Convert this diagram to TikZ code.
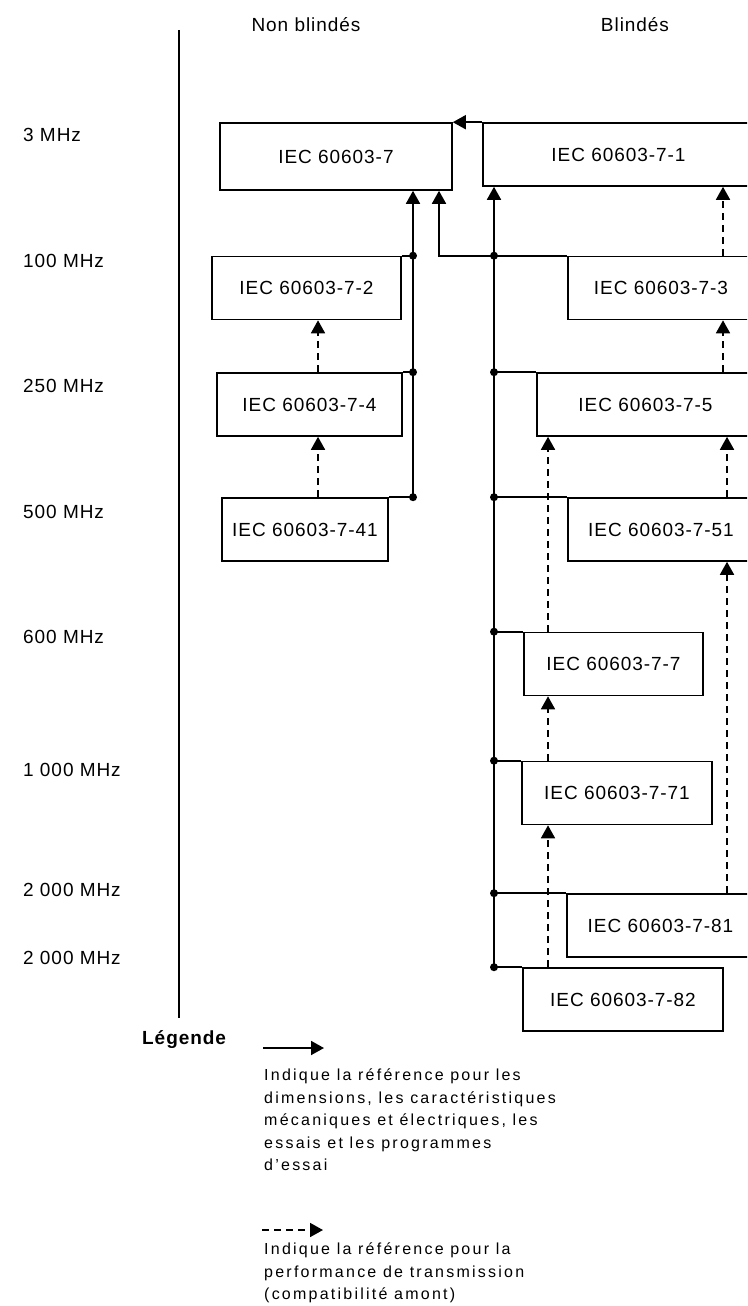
\documentclass[tikz,border=0pt]{standalone}
\usepackage{fontspec}
\setmainfont{Liberation Sans}[LetterSpace=5]
\newfontfamily\legendfont{Liberation Sans}[LetterSpace=14]
\usetikzlibrary{arrows.meta,calc}

\begin{document}
\begin{tikzpicture}[
    x=1pt, y=-1pt,
    font=\fontsize{19}{22}\selectfont,
    >={Triangle[length=13pt,width=14pt]},
    ref/.style={rectangle, draw, line width=1.6pt, inner sep=0pt, minimum height=63pt, align=center},
    freq/.style={anchor=west, inner sep=0pt},
    link/.style={line width=1.8pt},
    perf/.style={line width=1.7pt, dash pattern=on 7pt off 5pt},
    legtext/.style={anchor=north west, inner sep=0pt, align=left, font=\legendfont\fontsize{16}{22.5}\selectfont}
]
\path[use as bounding box, clip] (0,0) rectangle (747,1306);

% Headings and frequency axis
\node (nonbl) at (306,25) {Non blindés};
\node (bl) at (635,25) {Blindés};
\coordinate (axtop) at (179,30);
\coordinate (axbot) at (179,1018);
\draw[line width=1.6pt] (axtop) -- (axbot);

\node[freq] (f3)     at (23,135) {3 MHz};
\node[freq] (f100)   at (23,261) {100 MHz};
\node[freq] (f250)   at (23,386) {250 MHz};
\node[freq] (f500)   at (23,512) {500 MHz};
\node[freq] (f600)   at (23,637) {600 MHz};
\node[freq] (f1000)  at (23,770) {1 000 MHz};
\node[freq] (f2000a) at (23,890) {2 000 MHz};
\node[freq] (f2000b) at (23,958) {2 000 MHz};

% Unshielded column
\node[ref, minimum width=232pt, minimum height=67pt] (b7) at (336,156.5) {IEC 60603-7};
\node[ref, minimum width=189pt] (b72)  at (306.5,288) {IEC 60603-7-2};
\node[ref, minimum width=185pt] (b74)  at (309.5,404.5) {IEC 60603-7-4};
\node[ref, minimum width=166pt] (b741) at (305,529.5) {IEC 60603-7-41};

% Shielded column (runs past the right edge)
\node[ref, minimum width=271pt] (b71)  at (618.5,154.5) {IEC 60603-7-1};
\node[ref, minimum width=186pt] (b73)  at (661,288) {IEC 60603-7-3};
\node[ref, minimum width=217pt] (b75)  at (645.5,404.5) {IEC 60603-7-5};
\node[ref, minimum width=186pt] (b751) at (661,529.5) {IEC 60603-7-51};
\node[ref, minimum width=179pt] (b77)  at (613.5,664) {IEC 60603-7-7};
\node[ref, minimum width=190pt] (b771) at (617,793) {IEC 60603-7-71};
\node[ref, minimum width=187pt] (b781) at (660.5,925.5) {IEC 60603-7-81};
\node[ref, minimum width=200pt] (b782) at (623,999.5) {IEC 60603-7-82};

% Bus and column positions
\coordinate (busL) at (413,0);
\coordinate (jog)  at (439,0);
\coordinate (busR) at (494,0);
\coordinate (colA) at (318,0);
\coordinate (colB) at (548,0);
\coordinate (colC) at (723,0);
\coordinate (colD) at (727,0);

% Reference links: unshielded
\draw[->, link] (b741.north east -| busL) -- (b7.south -| busL);
\draw[link] (b72.north east) -- (b72.north east -| busL);
\draw[link] (b74.north east) -- (b74.north east -| busL);
\draw[link] (b741.north east) -- (b741.north east -| busL);
\fill (b72.north east -| busL) circle (4pt);
\fill (b74.north east -| busL) circle (4pt);
\fill (b741.north east -| busL) circle (4pt);

% Reference links: shielded
\draw[->, link] (b71.north west) -- (b7.north east);
\draw[->, link] (b73.north west) -- (b73.north west -| jog) -- (b7.south -| jog);
\draw[->, link] (b782.north west -| busR) -- (b71.south -| busR);
\draw[link] (b75.north west -| busR) -- (b75.north west);
\draw[link] (b751.north west -| busR) -- (b751.north west);
\draw[link] (b77.north west -| busR) -- (b77.north west);
\draw[link] (b771.north west -| busR) -- (b771.north west);
\draw[link] (b781.north west -| busR) -- (b781.north west);
\draw[link] (b782.north west -| busR) -- (b782.north west);
\fill (b73.north west -| busR) circle (4pt);
\fill (b75.north west -| busR) circle (4pt);
\fill (b751.north west -| busR) circle (4pt);
\fill (b77.north west -| busR) circle (4pt);
\fill (b771.north west -| busR) circle (4pt);
\fill (b781.north west -| busR) circle (4pt);
\fill (b782.north west -| busR) circle (4pt);

% Transmission performance links
\draw[->, perf] (b74.north -| colA) -- (b72.south -| colA);
\draw[->, perf] (b741.north -| colA) -- (b74.south -| colA);
\draw[->, perf] (b73.north -| colC) -- (b71.south -| colC);
\draw[->, perf] (b75.north -| colC) -- (b73.south -| colC);
\draw[->, perf] (b751.north -| colD) -- (b75.south -| colD);
\draw[->, perf] (b781.north -| colD) -- (b751.south -| colD);
\draw[->, perf] (b77.north -| colB) -- (b75.south -| colB);
\draw[->, perf] (b771.north -| colB) -- (b77.south -| colB);
\draw[->, perf] (b782.north -| colB) -- (b771.south -| colB);

% Legend
\node[anchor=west, inner sep=0pt, font=\bfseries\fontsize{19}{22}\selectfont] (leg) at (142,1040) {Légende};
\coordinate (la1) at (263,1048);
\coordinate (la2) at (324,1048);
\draw[->, link] (la1) -- (la2);
\node[legtext] (legsolid) at (264,1069) {Indique la référence pour les\\dimensions, les caractéristiques\\mécaniques et électriques, les\\essais et les programmes\\d’essai};
\coordinate (lb1) at (262,1230);
\coordinate (lb2) at (323,1230);
\draw[->, perf] (lb1) -- (lb2);
\node[legtext] (legdash) at (264,1243) {Indique la référence pour la\\performance de transmission\\(compatibilité amont)};

\end{tikzpicture}
\end{document}
